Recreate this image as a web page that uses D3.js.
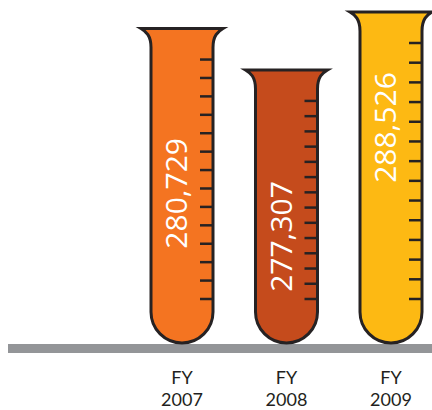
<!DOCTYPE html>
<html>
<head>
<meta charset="utf-8">
<script src="https://cdn.jsdelivr.net/npm/d3@7"></script>
<style>
  body { margin: 0; background: #fff; }
  svg { display: block; }
</style>
</head>
<body>
<script>
const w = 432;
const h = 410;

// data
const years = ["FY 2007", "FY 2008", "FY 2009"];
const values = [280729, 277307, 288526];
// drawn tube heights, as % of the tallest tube (picture is not to scale)
const tubeLevels = [95, 82.5, 100];
const colors = ["#f47421", "#c54b1c", "#fdb913"];
// where the value label sits along each tube (0 = rim, 1 = bottom)
const labelPos = [0.524, 0.61, 0.349];

const baseY = 343;
const r = 31;      // half width of tube body
const R = 41;      // half width of the rim
const ink = "#262223";

const svg = d3.select("body").append("svg").attr("width", w).attr("height", h);

const x = d3.scalePoint().domain(years).range([182, 391]);
const y = d3.scaleLinear().domain([0, 100]).range([baseY, 12]);

// floor
svg.append("rect")
  .attr("x", 8)
  .attr("y", baseY + 1)
  .attr("width", w - 8)
  .attr("height", 9)
  .attr("fill", "#939598");

function tubePath(cx, t, b) {
  return `M${cx - R},${t} L${cx + R},${t}
    C${cx + R - 5},${t + 3} ${cx + r},${t + 7} ${cx + r},${t + 19}
    L${cx + r},${b - r}
    A${r},${r} 0 0 1 ${cx - r},${b - r}
    L${cx - r},${t + 19}
    C${cx - r},${t + 7} ${cx - R + 5},${t + 3} ${cx - R},${t} Z`;
}

const tubes = svg.selectAll("g.tube")
  .data(years)
  .enter()
  .append("g")
  .attr("class", "tube");

tubes.append("path")
  .attr("d", (d, i) => tubePath(x(d), y(tubeLevels[i]), baseY))
  .attr("fill", (d, i) => colors[i])
  .attr("stroke", ink)
  .attr("stroke-width", 3);

// measuring marks
tubes.each(function (d, i) {
  const cx = x(d);
  const top = y(tubeLevels[i]) + 31;
  const bot = baseY - 44;
  const n = 13;
  d3.select(this).selectAll("line")
    .data(d3.range(n + 1))
    .enter()
    .append("line")
    .attr("x1", cx + r - 13)
    .attr("x2", cx + r)
    .attr("y1", k => top + (bot - top) * k / n)
    .attr("y2", k => top + (bot - top) * k / n)
    .attr("stroke", ink)
    .attr("stroke-width", 2.5);
});

// values
tubes.append("text")
  .text((d, i) => d3.format(",")(values[i]))
  .attr("transform", (d, i) => {
    const t = y(tubeLevels[i]);
    return `translate(${x(d) + 5},${t + (baseY - t) * labelPos[i]}) rotate(-90)`;
  })
  .attr("text-anchor", "middle")
  .attr("fill", "#fff")
  .attr("font-family", "Open Sans, sans-serif")
  .attr("font-size", 30);

// year labels, two lines each
years.forEach(d => {
  const parts = d.split(" ");
  parts.forEach((p, j) => {
    svg.append("text")
      .attr("x", x(d))
      .attr("y", 384 + j * 22)
      .attr("text-anchor", "middle")
      .attr("fill", "#231f20")
      .attr("font-family", "Lato, sans-serif")
      .attr("font-size", 18)
      .text(p);
  });
});
</script>
</body>
</html>
